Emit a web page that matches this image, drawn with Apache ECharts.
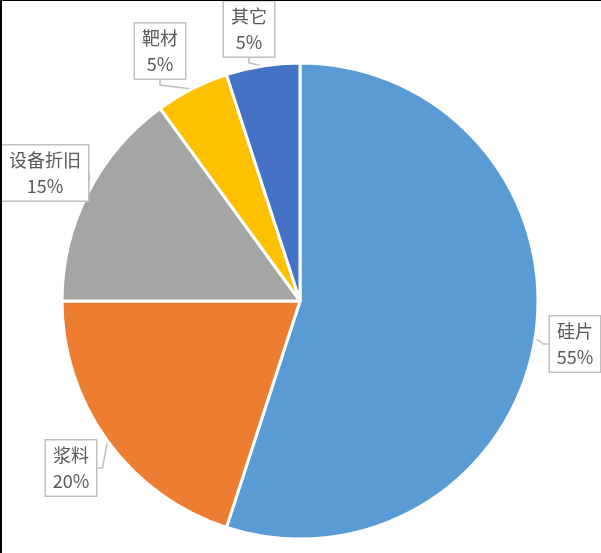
<!DOCTYPE html>
<html>
<head>
<meta charset="utf-8">
<script src="https://cdn.jsdelivr.net/npm/echarts@6/dist/echarts.min.js"></script>
<style>
html,body{margin:0;padding:0;background:#fff;}
#wrap{position:relative;width:601px;height:553px;overflow:hidden;}
#chart{position:absolute;left:0;top:0;width:601px;height:553px;}
#frame{position:absolute;left:0;top:0;width:601px;height:553px;box-sizing:border-box;border-top:1px solid #000;border-left:2px solid #000;pointer-events:none;}
</style>
</head>
<body>
<div id="wrap"><div id="chart"></div><div id="frame"></div></div>
<script>
const categories = ['硅片', '浆料', '设备折旧', '靶材', '其它'];
const values = [55, 20, 15, 5, 5];
const colors = ['#5B9BD5', '#ED7D31', '#A5A5A5', '#FFC000', '#4472C4'];
// label box centres (callout placement)
const labelPos = [[575, 344], [71, 468], [45, 173], [160, 51], [249, 29]];
const FS = 18;

const chart = echarts.init(document.getElementById('chart'), null, {renderer: 'canvas'});
chart.setOption({
  animation: false,
  backgroundColor: '#fff',
  series: [{
    type: 'pie',
    center: [300, 301],
    radius: [0, 238],
    startAngle: 90,
    clockwise: true,
    itemStyle: {borderColor: '#fff', borderWidth: 3},
    label: {
      show: true,
      position: 'outside',
      formatter: '{b}\n{d}%',
      fontFamily: '"Noto Sans CJK SC", "Noto Sans", sans-serif',
      fontSize: FS,
      lineHeight: 26,
      color: '#595959',
      backgroundColor: '#fff',
      borderColor: '#BFBFBF',
      borderWidth: 1.5,
      padding: [2, 6, 1, 6],
      align: 'center',
      overflow: 'none'
    },
    labelLine: {
      show: true,
      length: 5,
      length2: 5,
      lineStyle: {color: '#BFBFBF', width: 1.5}
    },
    labelLayout: function (p) {
      const pos = labelPos[p.dataIndex];
      return {x: pos[0], y: pos[1], align: 'center', verticalAlign: 'middle'};
    },
    data: categories.map((c, i) => ({
      name: c, value: values[i],
      itemStyle: {color: colors[i]},
      label: {width: c.length * FS + 2}
    }))
  }]
});
</script>
</body>
</html>
